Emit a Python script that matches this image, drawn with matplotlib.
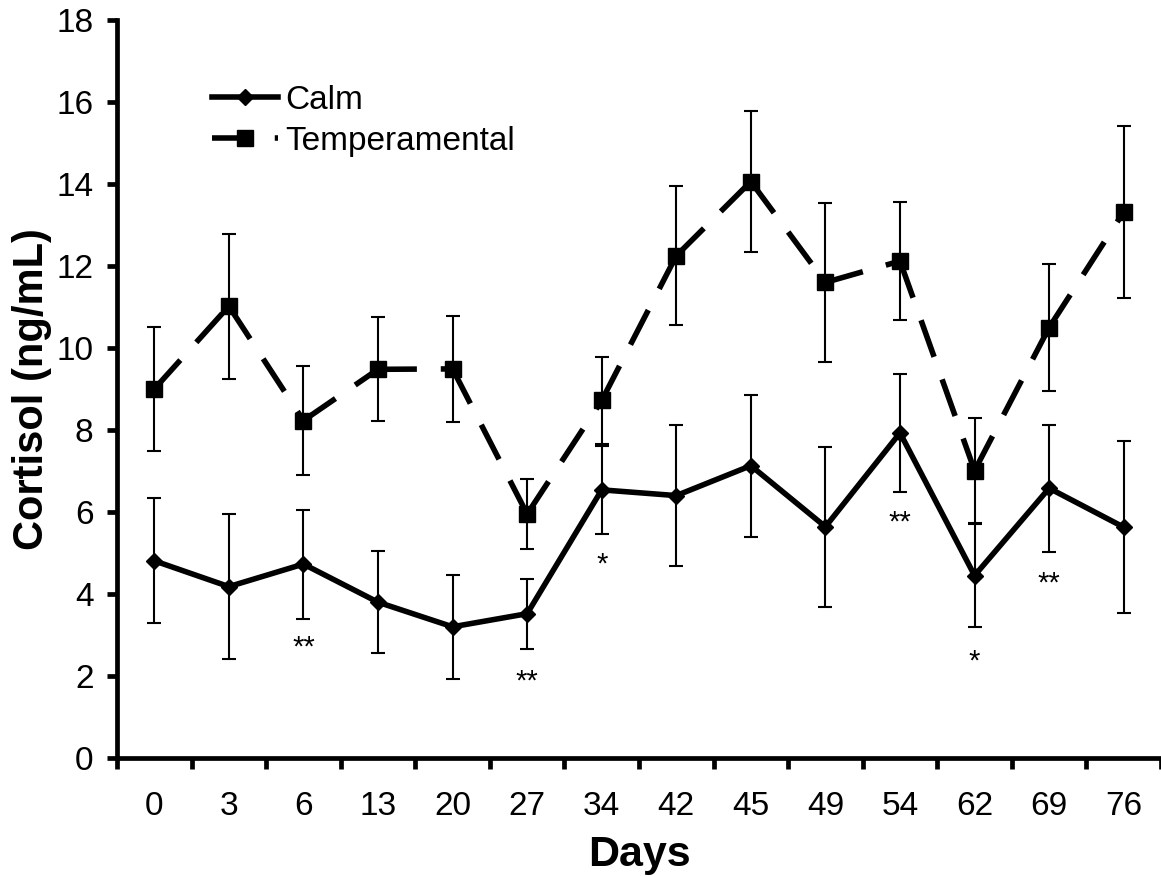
import matplotlib.pyplot as plt
import numpy as np

plt.rcParams['font.family'] = ['Liberation Sans', 'DejaVu Sans']

# sampling days (categorical axis)
DAYS = ['0', '3', '6', '13', '20', '27', '34', '42', '45', '49', '54', '62', '69', '76']

# mean cortisol (ng/mL) and SEM
CALM = [4.81, 4.18, 4.73, 3.80, 3.20, 3.52, 6.54, 6.40, 7.13, 5.64, 7.93, 4.45, 6.58, 5.63]
CALM_SEM = [1.52, 1.77, 1.33, 1.25, 1.27, 0.85, 1.07, 1.71, 1.73, 1.95, 1.43, 1.26, 1.55, 2.10]
TEMP = [9.00, 11.02, 8.23, 9.48, 9.49, 5.95, 8.72, 12.25, 14.06, 11.60, 12.12, 7.01, 10.50, 13.32]
TEMP_SEM = [1.52, 1.77, 1.33, 1.27, 1.30, 0.85, 1.06, 1.70, 1.73, 1.94, 1.43, 1.28, 1.55, 2.09]

# significance marks: (day index, y of mark, text)
SIG_IDX = [2, 5, 6, 10, 11, 12]
SIG_Y = [2.9, 2.08, 4.93, 5.95, 2.56, 4.46]
SIG_TXT = ['**', '**', '*', '**', '*', '**']

W, H = 1161, 877
fig = plt.figure(figsize=(W / 100, H / 100), dpi=100)
ax = fig.add_axes([117 / W, (H - 758) / H, (W - 117) / W, 738 / H])

x = np.arange(len(DAYS))

# error bars
ax.errorbar(x, CALM, yerr=CALM_SEM, fmt='none', ecolor='black', elinewidth=1.5,
            capsize=4.8, capthick=1.5, zorder=2)
ax.errorbar(x, TEMP, yerr=TEMP_SEM, fmt='none', ecolor='black', elinewidth=1.5,
            capsize=4.8, capthick=1.5, zorder=2)

# calm: solid line with diamonds
calm_handle, = ax.plot(x, CALM, color='black', lw=4.0, marker='D', ms=8.5, zorder=3)

# temperamental: dashes restart on every segment like the original
dash = (0, (7.0, 4.3))
for i in range(len(x) - 1):
    ax.plot(x[i:i + 2], TEMP[i:i + 2], color='black', lw=4.0, ls=dash, zorder=3)
ax.plot(x, TEMP, color='black', lw=0, marker='s', ms=11, zorder=4)
temp_handle, = ax.plot([], [], color='black', lw=4.0, ls=dash, marker='s', ms=11)

# significance asterisks
for i, yv, t in zip(SIG_IDX, SIG_Y, SIG_TXT):
    ax.annotate(t, (x[i], yv), xytext=(0, -12), textcoords='offset points',
                ha='center', va='baseline', fontsize=21)

ax.set_xlim(-0.5, -0.5 + (W - 117) / 75)
ax.set_ylim(0, 18)
ax.set_yticks(np.arange(0, 19, 2))
ax.set_xticks(x)
ax.set_xticklabels(DAYS)
ax.set_xticks(list(x - 0.5) + [x[-1] + 0.5], minor=True)

ax.spines['top'].set_visible(False)
ax.spines['right'].set_visible(False)
ax.spines['left'].set_linewidth(3.4)
ax.spines['bottom'].set_linewidth(3.4)

ax.tick_params(axis='y', direction='out', length=7, width=3.4, labelsize=24, pad=10)
ax.tick_params(axis='x', which='major', length=0, labelsize=24, pad=24)
ax.tick_params(axis='x', which='minor', direction='out', length=8, width=3.4)

ax.set_xlabel('Days', fontsize=31, fontweight='bold', labelpad=9)
ax.set_ylabel('Cortisol (ng/mL)', fontsize=30, fontweight='bold', labelpad=3)

ax.legend(handles=[calm_handle, temp_handle], labels=['Calm', 'Temperamental'],
          loc='upper left', bbox_to_anchor=(0.078, 0.93), frameon=False,
          fontsize=24, handlelength=2.0, handletextpad=0.2, labelspacing=0.3,
          borderaxespad=0)

fig.savefig('out.png', dpi=100)
